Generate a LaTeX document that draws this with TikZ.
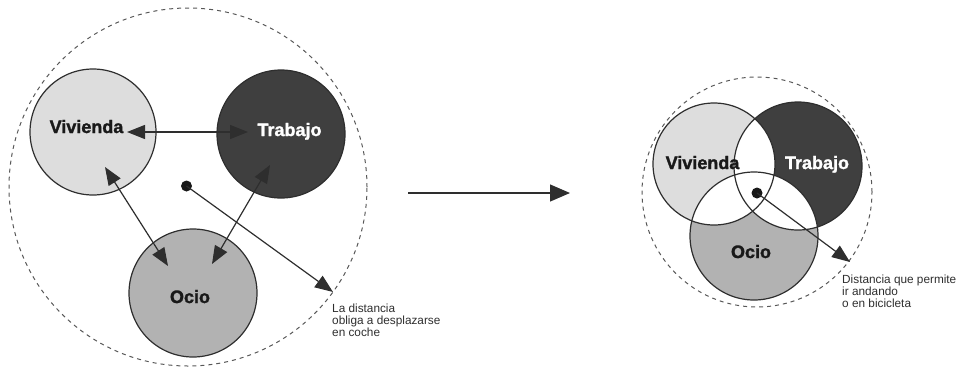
\documentclass[tikz,border=0pt]{standalone}
\usepackage{fontspec}
\setmainfont{Liberation Sans}
\newfontfamily\heavyfont[BoldFeatures={FakeBold=1.6}]{Liberation Sans}
\usetikzlibrary{arrows.meta}
\definecolor{vcol}{HTML}{DDDDDD}
\definecolor{tcol}{HTML}{3F3F3F}
\definecolor{ocol}{HTML}{B2B2B2}
\definecolor{lcol}{HTML}{2E2E2E}
\tikzset{
  circ/.style={circle, draw=lcol, line width=1.2pt, inner sep=0pt},
  bigdash/.style={draw=lcol!80, line width=1pt, dash pattern=on 4pt off 4pt},
  lbl/.style={font=\fontsize{18}{20}\heavyfont\bfseries, text=black!90, inner sep=0pt, anchor=base},
  note/.style={font=\fontsize{11.8}{12}\selectfont, text=lcol, align=left, inner sep=0pt, anchor=north west},
  arr/.style={draw=lcol, line width=1.2pt, -{Triangle[length=18pt,width=14pt]}},
  darr/.style={draw=lcol, line width=1.2pt, {Triangle[length=18pt,width=14pt]}-{Triangle[length=18pt,width=14pt]}},
  dotc/.style={circle, fill=black!90, inner sep=0pt, minimum size=11pt}
}
\begin{document}
\begin{tikzpicture}[x=1pt,y=-1pt]
\useasboundingbox (0,0) rectangle (965,368);
% ---------------- left diagram ----------------
\node[circ, bigdash, minimum size=358pt] (L) at (188,187) {};
\node[circ, fill=vcol, minimum size=126pt] (V1) at (93,132) {};
\node[circ, fill=tcol, minimum size=128pt] (T1) at (281,134) {};
\node[circ, fill=ocol, minimum size=128pt] (O1) at (193,293) {};
\node[lbl] (V1l) at (86.5,133) {Vivienda};
\node[lbl, text=white] (T1l) at (289.5,136) {Trabajo};
\node[lbl] (O1l) at (190,303) {Ocio};
\node[dotc] (D1) at (186.5,186) {};
\coordinate (a1) at (127,132);
\coordinate (a2) at (248,132);
\coordinate (b1) at (105,167);
\coordinate (b2) at (168,266);
\coordinate (c1) at (270,165);
\coordinate (c2) at (212,264);
\coordinate (e1) at (333,292);
\draw[darr] (a1) -- (a2);
\draw[darr] (b1) -- (b2);
\draw[darr] (c1) -- (c2);
\draw[arr] (D1.center) -- (e1);
\node[note] (N1) at (332,304) {La distancia\\obliga a desplazarse\\en coche};
% ---------------- middle arrow ----------------
\coordinate (m1) at (408,193);
\coordinate (m2) at (570,193);
\draw[draw=lcol, line width=1.2pt, -{Triangle[length=20pt,width=17pt]}] (m1) -- (m2);
% ---------------- right diagram ----------------
\node[circ, bigdash, minimum size=230pt] (R) at (757,192) {};
\node[circle, inner sep=0pt, fill=vcol, minimum size=122pt] (V2) at (714,164) {};
\node[circle, inner sep=0pt, fill=tcol, minimum size=128pt] (T2) at (798,166) {};
\node[circle, inner sep=0pt, fill=ocol, minimum size=128pt] (O2) at (754,236) {};
\begin{scope}
  \clip (V2.center) circle[radius=61pt];
  \fill[white] (T2.center) circle[radius=64pt];
  \fill[white] (O2.center) circle[radius=64pt];
\end{scope}
\begin{scope}
  \clip (T2.center) circle[radius=64pt];
  \fill[white] (O2.center) circle[radius=64pt];
\end{scope}
\draw[draw=lcol, line width=1.2pt] (V2.center) circle[radius=61pt];
\draw[draw=lcol, line width=1.2pt] (T2.center) circle[radius=64pt];
\draw[draw=lcol, line width=1.2pt] (O2.center) circle[radius=64pt];
\node[lbl] (V2l) at (702.5,169) {Vivienda};
\node[lbl, text=white] (T2l) at (817,169) {Trabajo};
\node[lbl] (O2l) at (751,258) {Ocio};
\node[dotc] (D2) at (757,193) {};
\coordinate (e2) at (850,262);
\draw[arr] (D2.center) -- (e2);
\node[note] (N2) at (842,275) {Distancia que permite\\ir andando\\o en bicicleta};
\end{tikzpicture}
\end{document}
